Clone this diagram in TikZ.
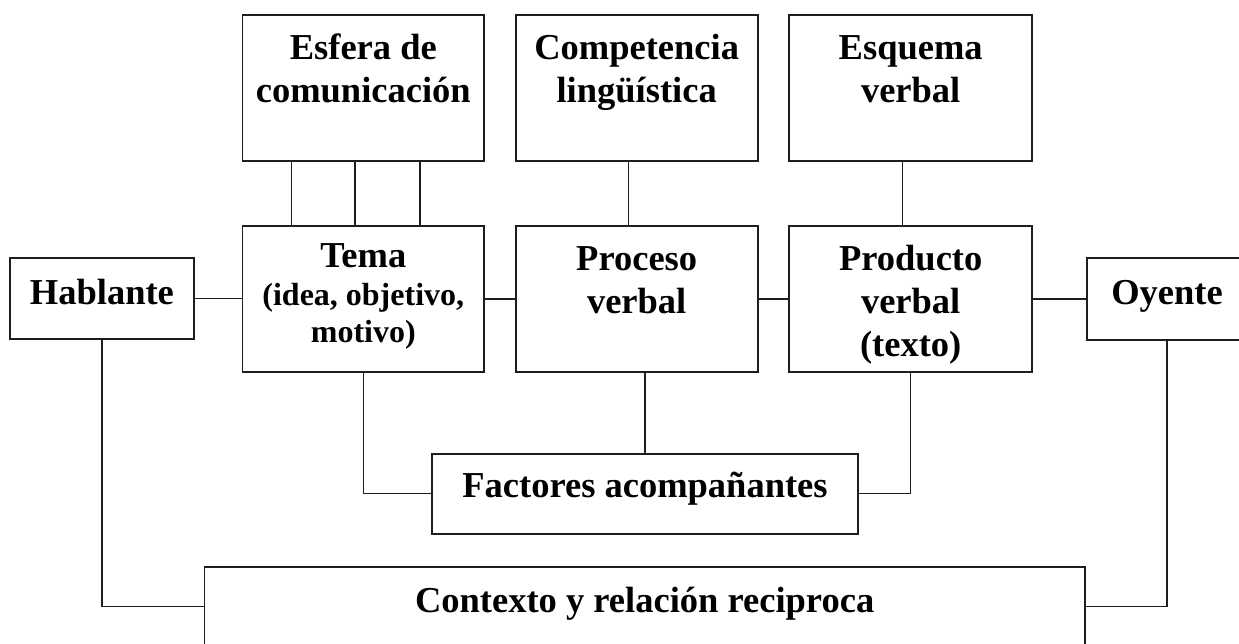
\documentclass[tikz,border=0pt]{standalone}
\usepackage{fontspec}
\setmainfont{Liberation Serif}
\definecolor{ink}{HTML}{1E1E1E}
\newcommand{\boxtext}[4]{\parbox[t][#2][t]{#1}{\centering\bfseries\fontsize{36.5}{43}\selectfont\rule{0pt}{#3}#4\par}}
\tikzset{
  box/.style={draw=ink, text=black, line width=1.8pt, inner sep=0pt, anchor=north west},
  link/.style={draw=ink, line width=1.5pt}
}
\begin{document}
\begin{tikzpicture}[x=1pt,y=-1pt]
\clip (0,0) rectangle (1239,643);
\fill[white] (0,0) rectangle (1239,643);
% top row
\node[box] (esfera) at (241.6,14) {\boxtext{241.6pt}{146pt}{45pt}{Esfera de\\comunicación}};
\node[box] (compet) at (514.8,14) {\boxtext{242pt}{146pt}{45pt}{Competencia\\lingüística}};
\node[box] (esquema) at (788.4,14) {\boxtext{242.8pt}{146pt}{45pt}{Esquema\\verbal}};
% middle row
\node[box] (tema) at (241.6,225) {\parbox[t][145.7pt][t]{241.6pt}{\centering\bfseries\fontsize{36.5}{37.5}\selectfont\rule{0pt}{42pt}Tema\\\fontsize{32}{37.5}\selectfont(idea, objetivo,\\motivo)\par}};
\node[box] (proceso) at (514.8,225) {\boxtext{242pt}{145.7pt}{45pt}{Proceso\\verbal}};
\node[box] (producto) at (788.4,225) {\boxtext{242.8pt}{145.7pt}{45pt}{Producto\\verbal\\(texto)}};
\node[box] (hablante) at (8.7,257.3) {\boxtext{184.7pt}{80.4pt}{46pt}{Hablante}};
\node[box] (oyente) at (1085.8,257.3) {\boxtext{160.7pt}{81.7pt}{46pt}{Oyente}};
% lower boxes
\node[box] (factores) at (431,452.7) {\boxtext{426.2pt}{80pt}{44pt}{Factores acompañantes}};
\node[box] (contexto) at (203.6,566) {\boxtext{880.2pt}{79.4pt}{46pt}{Contexto y relación reciproca}};
% connectors top to middle
\draw[link] ([xshift=-71.8pt]esfera.south) -- ([xshift=-71.8pt]tema.north);
\draw[link] ([xshift=-8.1pt]esfera.south) -- ([xshift=-8.1pt]tema.north);
\draw[link] ([xshift=56.7pt]esfera.south) -- ([xshift=56.7pt]tema.north);
\draw[link] ([xshift=-8pt]compet.south) -- ([xshift=-8pt]proceso.north);
\draw[link] ([xshift=-8.3pt]esquema.south) -- ([xshift=-8.3pt]producto.north);
% horizontal chain
\draw[link] (hablante.east) -- (hablante.east -| tema.west);
\draw[link] (tema.east) -- (tema.east -| proceso.west);
\draw[link] (proceso.east) -- (proceso.east -| producto.west);
\draw[link] (producto.east) -- (producto.east -| oyente.west);
% to factores
\draw[link] (tema.south) |- (factores.west);
\draw[link] (producto.south) |- (factores.east);
\draw[link] (factores.north) -- (factores.north |- proceso.south);
% to contexto
\draw[link] (hablante.south) |- (contexto.west);
\draw[link] (oyente.south) |- (contexto.east);
\end{tikzpicture}
\end{document}
